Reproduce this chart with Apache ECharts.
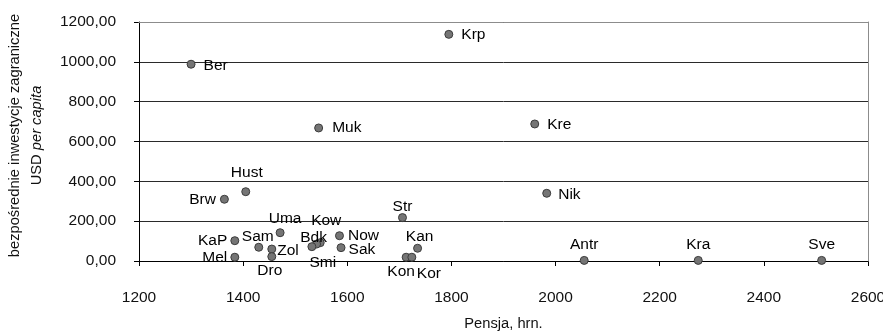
<!DOCTYPE html>
<html>
<head>
<meta charset="utf-8">
<script src="https://cdn.jsdelivr.net/npm/echarts@6/dist/echarts.min.js"></script>
<style>html,body{margin:0;padding:0;background:#fff}#c{width:883px;height:335px}</style>
</head>
<body>
<div id="c"></div>
<script>
// ---- data ----
const names  = ['Ber','Krp','Muk','Kre','Nik','Hust','Brw','Uma','KaP','Sam','Zol','Mel','Dro','Kow','Bdk','Smi','Now','Sak','Str','Kan','Kon','Kor','Antr','Kra','Sve'];
const pensja = [1300,1795,1545,1960,1983,1405,1364,1471,1384,1430,1455,1384,1455,1548,1541,1532,1585,1588,1706,1735,1713,1724,2055,2274,2511];
const inwest = [988,1138,668,688,340,348,310,142,102,69,60,19,22,92,85,72,127,67,218,64,19,19,3,3,3];
const xTicks = [1200,1400,1600,1800,2000,2200,2400,2600];
const yTicks = [0,200,400,600,800,1000,1200];

// label placement (style only)
const place = {
  Ber:['right',8,[0,1]], Krp:['right',8,[0,0]], Muk:['right',9,[0,0]], Kre:['right',8,[0,1]], Nik:['right',7,[0,1]],
  Hust:['top',3,[1,-3]], Brw:['left',4,[0,0]], Uma:['top',3,[5,2]], KaP:['left',3,[0,0]], Sam:['top',3,[-1,5]],
  Zol:['right',1,[0,2]], Mel:['left',3,[0,1]], Dro:['bottom',3,[-2,-1]], Kow:['top',3,[6,-6]], Bdk:['top',3,[-3,9]],
  Smi:['bottom',3,[11,1]], Now:['right',4,[0,0]], Sak:['right',3,[0,2]], Str:['top',3,[0,5]], Kan:['top',3,[2,4]],
  Kon:['bottom',3,[-5,-1]], Kor:['bottom',3,[17,1]], Antr:['top',3,[0,0]], Kra:['top',3,[0,0]], Sve:['top',3,[0,0]]
};

const FONT = 'Liberation Sans, Arial, sans-serif';
const FS = 15.5;
const FSN = 14.7;

const data = names.map((n,i)=>{
  const p = place[n];
  return {
    name:n, value:[pensja[i], inwest[i]],
    label:{show:true, position:p[0], distance:p[1], offset:p[2]}
  };
});

const chart = echarts.init(document.getElementById('c'), null, {renderer:'canvas'});
chart.setOption({
  animation:false,
  backgroundColor:'#fff',
  grid:{left:139, right:15, top:22, bottom:74, containLabel:false, outerBoundsMode:'none'},
  xAxis:[{
    type:'value', min:xTicks[0], max:xTicks[xTicks.length-1], interval:200,
    name:'Pensja, hrn.', nameLocation:'middle', nameGap:55,
    nameTextStyle:{fontFamily:FONT, fontSize:FSN, color:'#111'},
    axisLine:{show:true, onZero:false, lineStyle:{color:'#000', width:1}},
    axisTick:{show:true, inside:false, length:5, lineStyle:{color:'#000'}},
    axisLabel:{margin:29, fontFamily:FONT, fontSize:FS, color:'#111', formatter:v=>String(v)},
    splitLine:{show:false}
  },{
    type:'value', position:'top', min:xTicks[0], max:xTicks[xTicks.length-1], interval:200, z:5,
    axisLine:{show:true, onZero:false, lineStyle:{color:'#8c8c8c', width:1}},
    axisTick:{show:false}, axisLabel:{show:false}, splitLine:{show:false}
  }],
  yAxis:[{
    type:'value', min:yTicks[0], max:yTicks[yTicks.length-1], interval:200,
    name:'{n|bezpośrednie inwestycje zagraniczne}\n{n|USD }{i|per capita}',
    nameLocation:'middle', nameRotate:90, nameGap:91,
    nameTextStyle:{
      fontFamily:FONT, fontSize:FSN, color:'#111', align:'center', lineHeight:22,
      padding:[0,0,0,12],
      rich:{
        n:{fontFamily:FONT, fontSize:FSN, color:'#111', lineHeight:22},
        i:{fontFamily:FONT, fontSize:FSN, color:'#111', fontStyle:'italic', lineHeight:22}
      }
    },
    axisLine:{show:true, onZero:false, lineStyle:{color:'#000', width:1}},
    axisTick:{show:true, inside:false, length:5, lineStyle:{color:'#000'}},
    axisLabel:{margin:23, fontFamily:FONT, fontSize:FS, color:'#111',
      formatter:v=>v.toFixed(2).replace('.',',')},
    splitLine:{show:true, lineStyle:{color:'#2a2a2a', width:1}}
  },{
    type:'value', position:'right', min:yTicks[0], max:yTicks[yTicks.length-1], interval:200, z:5,
    axisLine:{show:true, onZero:false, lineStyle:{color:'#8c8c8c', width:1}},
    axisTick:{show:false}, axisLabel:{show:false}, splitLine:{show:false}
  }],
  series:[{
    type:'scatter',
    xAxisIndex:0, yAxisIndex:0,
    symbol:'circle', symbolSize:8,
    itemStyle:{color:'#757575', borderColor:'#3c3c3c', borderWidth:1, opacity:1},
    label:{fontFamily:FONT, fontSize:FS, color:'#000', formatter:p=>p.name},
    data:data,
    z:10
  }]
});
</script>
</body>
</html>
